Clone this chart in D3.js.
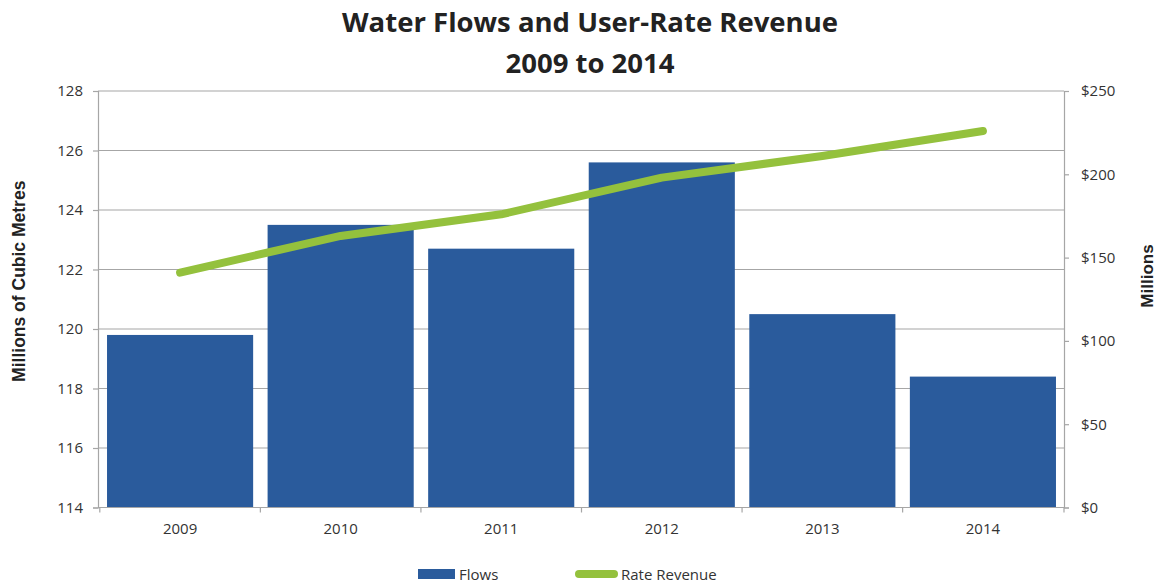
<!DOCTYPE html>
<html>
<head>
<meta charset="utf-8">
<script src="https://cdn.jsdelivr.net/npm/d3@7"></script>
<style>
  html, body { margin: 0; padding: 0; background: #fff; }
  svg { display: block; }
</style>
</head>
<body>
<svg id="chart" width="1159" height="584"></svg>
<script>
// Years shown along the x axis
const years = ["2009", "2010", "2011", "2012", "2013", "2014"];
// Water flows, millions of cubic metres (bars, left axis)
const flows = [119.8, 123.5, 122.7, 125.6, 120.5, 118.4];
// User-rate revenue, $ millions (line, right axis)
const revenue = [141, 163, 176, 198, 211, 226];
// Axis ticks
const leftTicks = [114, 116, 118, 120, 122, 124, 126, 128];
const rightTicks = [0, 50, 100, 150, 200, 250];
const titleLines = ["Water Flows and User-Rate Revenue", "2009 to 2014"];

const svg = d3.select("#chart");
const m = { left: 98, right: 1064, top: 91, bottom: 507.5 };

const x = d3.scaleBand().domain(years).range([m.left + 1, m.right])
  .paddingInner(0.09).paddingOuter(0.05);
const yL = d3.scaleLinear().domain([114, 128]).range([m.bottom, m.top]);
const yR = d3.scaleLinear().domain([0, 250]).range([m.bottom, m.top]);

const barColor = "#2a5b9c";
const lineColor = "#94c13d";
const gridColor = "#a6a6a6";
const textColor = "#333";
const tickFont = "'Open Sans', sans-serif";

// Horizontal gridlines from the left axis
svg.append("g").selectAll("line").data(leftTicks).join("line")
  .attr("x1", m.left).attr("x2", m.right)
  .attr("y1", d => yL(d)).attr("y2", d => yL(d))
  .attr("stroke", gridColor).attr("stroke-width", 1.2);

// Flow bars
svg.append("g").selectAll("rect").data(years).join("rect")
  .attr("x", d => x(d))
  .attr("width", x.bandwidth())
  .attr("y", (d, i) => yL(flows[i]))
  .attr("height", (d, i) => yL(114) - yL(flows[i]))
  .attr("fill", barColor);

// Left axis
const leftAxis = svg.append("g").attr("transform", `translate(${m.left},0)`)
  .call(d3.axisLeft(yL).tickValues(leftTicks).tickSize(5).tickPadding(10).tickFormat(d3.format("d")));
// Right axis
const rightAxis = svg.append("g").attr("transform", `translate(${m.right},0)`)
  .call(d3.axisRight(yR).tickValues(rightTicks).tickSize(5).tickPadding(12).tickFormat(d => "$" + d));
// Bottom axis: ticks sit on category boundaries
const bottomAxis = svg.append("g").attr("transform", `translate(0,${m.bottom})`)
  .call(d3.axisBottom(x).tickSize(0).tickPadding(16));
const boundaries = years.map(d => x(d) - x.step() * x.paddingInner() / 2).concat([m.right]);
bottomAxis.selectAll(".bound").data(boundaries).join("line").attr("class", "bound")
  .attr("x1", d => d).attr("x2", d => d).attr("y1", 0).attr("y2", 5)
  .attr("stroke", gridColor).attr("stroke-width", 1.2);

[leftAxis, rightAxis, bottomAxis].forEach(g => {
  g.selectAll(".domain").attr("stroke", gridColor).attr("stroke-width", 1.2);
  g.selectAll(".tick line").attr("stroke", gridColor).attr("stroke-width", 1.2);
  g.selectAll(".tick text").attr("fill", textColor)
    .style("font-family", tickFont).style("font-size", "15px");
});
bottomAxis.selectAll(".domain").attr("d", `M${m.left},0H${m.right}`);

// Revenue line
const line = d3.line().x((d, i) => x(years[i]) + x.bandwidth() / 2).y(d => yR(d));
svg.append("path").datum(revenue)
  .attr("d", line)
  .attr("fill", "none").attr("stroke", lineColor)
  .attr("stroke-width", 8).attr("stroke-linecap", "round").attr("stroke-linejoin", "round");

// Title
svg.append("g").selectAll("text").data(titleLines).join("text")
  .attr("x", 590).attr("y", (d, i) => 32 + i * 41)
  .attr("text-anchor", "middle")
  .attr("fill", "#222")
  .style("font-family", "'Open Sans', sans-serif").style("font-weight", "bold").style("font-size", "27.5px")
  .text(d => d);

// Axis titles
svg.append("text")
  .attr("transform", `translate(25,${(m.top + m.bottom) / 2 - 18}) rotate(-90)`)
  .attr("text-anchor", "middle").attr("fill", "#222")
  .style("font-family", "'Liberation Sans', Arial, sans-serif").style("font-weight", "bold").style("font-size", "17.5px")
  .text("Millions of Cubic Metres");
svg.append("text")
  .attr("transform", `translate(1153,276) rotate(-90)`)
  .attr("text-anchor", "middle").attr("fill", "#222")
  .style("font-family", "'Liberation Sans', Arial, sans-serif").style("font-weight", "bold").style("font-size", "17px")
  .text("Millions");

// Legend
const legend = svg.append("g").attr("transform", "translate(0,574)");
legend.append("rect").attr("x", 418).attr("y", -5).attr("width", 37).attr("height", 10).attr("fill", barColor);
legend.append("text").attr("x", 459).attr("y", 5.5).attr("fill", textColor)
  .style("font-family", tickFont).style("font-size", "15px").text("Flows");
legend.append("line").attr("x1", 579).attr("x2", 614).attr("y1", 0).attr("y2", 0)
  .attr("stroke", lineColor).attr("stroke-width", 8).attr("stroke-linecap", "round");
legend.append("text").attr("x", 621).attr("y", 5.5).attr("fill", textColor)
  .style("font-family", tickFont).style("font-size", "15px").text("Rate Revenue");
</script>
</body>
</html>
